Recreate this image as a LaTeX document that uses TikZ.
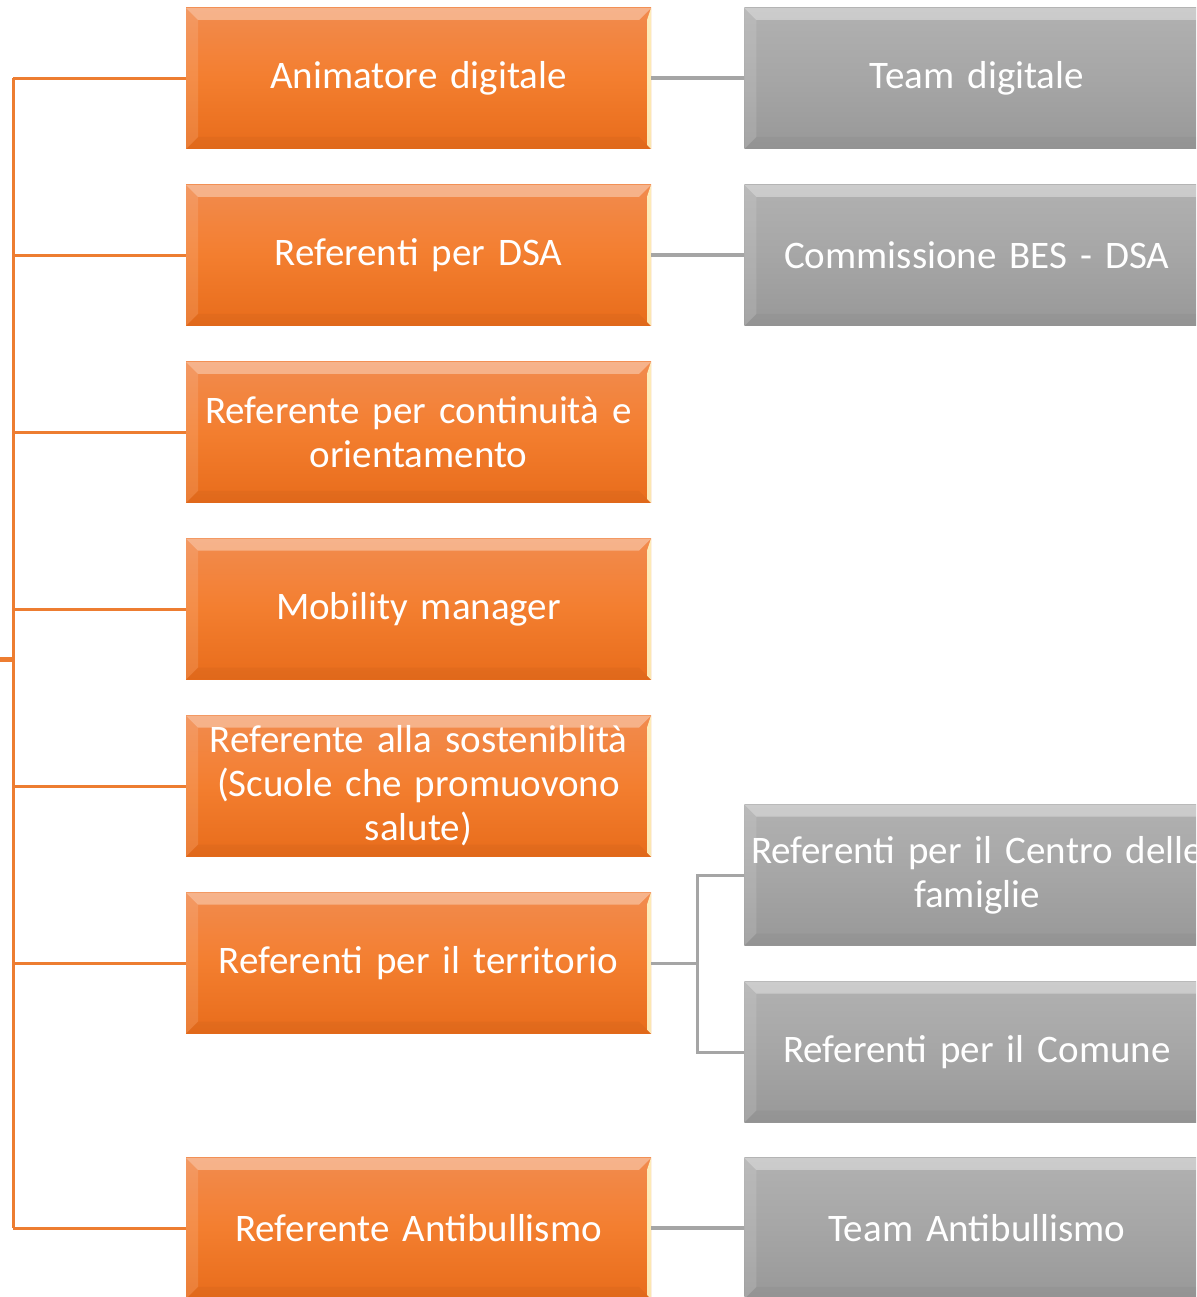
\documentclass[tikz,border=0pt]{standalone}
\usepackage{fontspec}
\setmainfont{Carlito}
\usepackage{tikz}
\usetikzlibrary{positioning}

\definecolor{orTop}{HTML}{F28B4E}
\definecolor{orMid}{HTML}{F37E2F}
\definecolor{orBot}{HTML}{E86C1B}
\definecolor{orLine}{HTML}{ED7D31}
\definecolor{grTop}{HTML}{B1B1B1}
\definecolor{grMid}{HTML}{A6A6A6}
\definecolor{grBot}{HTML}{989898}
\definecolor{grLine}{HTML}{A5A5A5}

\begin{document}
\begin{tikzpicture}[
    x=1pt, y=-1pt,
    % Bevelled box look
    bevel/.style={
        path picture={
            \fill[white, opacity=.35] (path picture bounding box.north west) -- (path picture bounding box.north east)
              -- ([shift={(-12pt,-12pt)}]path picture bounding box.north east)
              -- ([shift={(12pt,-12pt)}]path picture bounding box.north west) -- cycle;
            \fill[white, opacity=.12] (path picture bounding box.north west)
              -- ([shift={(12pt,-12pt)}]path picture bounding box.north west)
              -- ([shift={(12pt,12pt)}]path picture bounding box.south west)
              -- (path picture bounding box.south west) -- cycle;
            \fill[black, opacity=.03] (path picture bounding box.south west)
              -- ([shift={(12pt,12pt)}]path picture bounding box.south west)
              -- ([shift={(-12pt,12pt)}]path picture bounding box.south east)
              -- (path picture bounding box.south east) -- cycle;
            \fill[#1, opacity=.85] (path picture bounding box.north east) -- (path picture bounding box.south east)
              -- ([shift={(-4pt,4pt)}]path picture bounding box.south east)
              -- ([shift={(-4pt,-12pt)}]path picture bounding box.north east) -- cycle;
        }
    },
    % Node styles
    rolebox/.style={
        rectangle, minimum width=465pt, minimum height=141pt, inner sep=0pt,
        text width=465pt, align=center, text=white,
        font=\fontsize{39}{44}\selectfont,
    },
    orangebox/.style={
        rolebox, top color=orTop, bottom color=orBot, middle color=orMid,
        bevel={yellow!20!white},
    },
    graybox/.style={
        rolebox, top color=grTop, bottom color=grBot, middle color=grMid,
        bevel={white!85!gray},
    },
    % Connector styles
    orline/.style={draw=orLine, line width=3pt},
    grline/.style={draw=grLine, line width=4pt},
]
\useasboundingbox (0,0) rectangle (1196,1297);
\clip (0,0) rectangle (1196,1297);

% --- Left column ---
\node[orangebox] (anim) at (418.5,78.5) {Animatore digitale};
\node[orangebox, below=35.5pt of anim] (dsa) {Referenti per DSA};
\node[orangebox, below=35.5pt of dsa] (cont) {Referente per continuità e\\orientamento};
\node[orangebox, below=35.5pt of cont] (mob) {Mobility manager};
\node[orangebox, below=35.5pt of mob] (sost) {Referente alla sosteniblità\\(Scuole che promuovono\\salute)};
\node[orangebox, below=35.5pt of sost] (terr) {Referenti per il territorio};
\node[orangebox, below=124pt of terr] (anti) {Referente Antibullismo};

% --- Right column ---
\node[graybox, right=93pt of anim] (team) {Team digitale};
\node[graybox, right=93pt of dsa] (bes) {Commissione BES - DSA};
\node[graybox, right=93pt of terr, yshift=88pt] (centro) {\makebox[0pt]{Referenti per il Centro delle}\\famiglie};
\node[graybox, right=93pt of terr, yshift=-89pt] (comune) {Referenti per il Comune};
\node[graybox, right=93pt of anti] (tanti) {Team Antibullismo};

% --- Connectors ---
\coordinate (root) at (0,659);
\coordinate (bus) at (13,659);
\coordinate (fork) at ([xshift=46pt]terr.east);
\draw[orLine, line width=5pt] (root) -- (bus);
\draw[orline] (bus|-anim.west) -- (bus|-anti.west);
\foreach \n in {anim, dsa, cont, mob, sost, terr, anti} {
    \draw[orline] (bus|-\n.west) -- (\n.west);
}
\draw[grline] (anim.east) -- (team.west);
\draw[grline] (dsa.east) -- (bes.west);
\draw[grline] (anti.east) -- (tanti.west);
\draw[grline, line width=3pt] (terr.east) -- (fork);
\draw[grline, line width=3pt] (centro.west) -| (fork) |- (comune.west);

\end{tikzpicture}
\end{document}
